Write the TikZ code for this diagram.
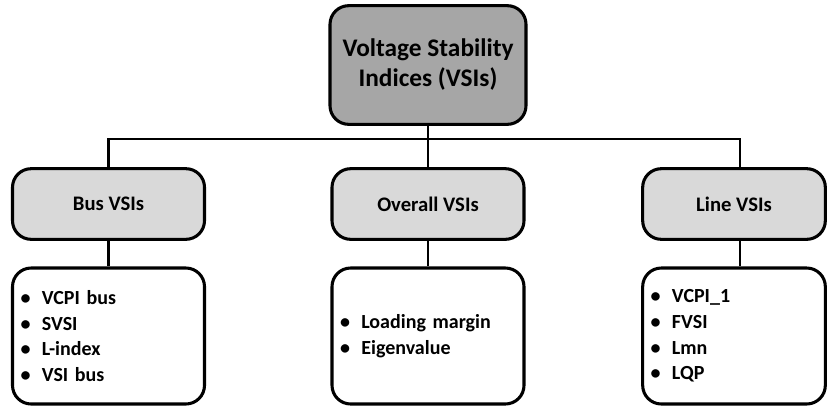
\documentclass[tikz,border=0pt]{standalone}
\usepackage{fontspec}
\setmainfont{Carlito}
\usetikzlibrary{positioning}
\definecolor{topgray}{HTML}{A6A6A6}
\definecolor{midgray}{HTML}{D9D9D9}
\tikzset{
  box/.style={draw=black, line width=2.3pt, rounded corners=14pt, font=\bfseries},
  topbox/.style={box, fill=topgray, minimum width=147pt, minimum height=89pt, align=center, font=\bfseries\fontsize{19}{22.5}\selectfont},
  midbox/.style={box, fill=midgray, minimum height=53pt, font=\bfseries\fontsize{15.5}{18}\selectfont},
  listbox/.style={box, fill=white, minimum height=102pt, align=left, inner xsep=6pt, font=\bfseries\fontsize{15}{19.2}\selectfont},
  link/.style={draw=black, line width=2.2pt}
}
\newcommand{\itm}[1]{\makebox[16pt][l]{\textbullet}#1}
\begin{document}
\begin{tikzpicture}[x=0.75pt, y=-0.75pt]
\useasboundingbox (0,0) rectangle (827,412);

\node[topbox] (vsi) at (428,65) {Voltage Stability\\Indices (VSIs)};

\node[midbox, minimum width=144pt] (bus) at (108.5,204) {Bus VSIs};
\node[midbox, minimum width=144pt] (overall) at (428,204) {Overall VSIs};
\node[midbox, minimum width=137pt] (line) at (734,204) {Line VSIs};

\node[listbox, text width=132pt] (buslist) at (108.5,336) {\itm{VCPI bus}\\\itm{SVSI}\\\itm{L-index}\\\itm{VSI bus}};
\node[listbox, text width=132pt] (overalllist) at (428,336) {\itm{Loading margin}\\\itm{Eigenvalue}};
\node[listbox, text width=125pt] (linelist) at (734,336) {\itm{VCPI\_1}\\\itm{FVSI}\\\itm{Lmn}\\\itm{LQP}};

\coordinate (bar) at (428,139);

\draw[link] (vsi.south) -- (overall.north);
\draw[link] (bus.north) |- (bar) -| ([xshift=4.5pt]line.north);
\draw[link] (bus.south) -- (buslist.north);
\draw[link] (overall.south) -- (overalllist.north);
\draw[link] ([xshift=4.5pt]line.south) -- ([xshift=4.5pt]linelist.north);

\end{tikzpicture}
\end{document}
